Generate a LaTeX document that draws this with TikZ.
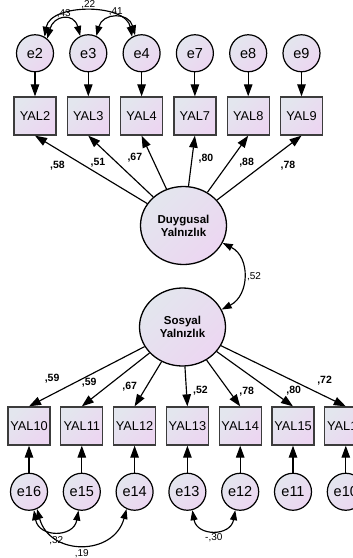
\documentclass[tikz,border=0pt]{standalone}
\usepackage{fontspec}
\setmainfont{Liberation Sans}
\usepackage{tikz}
\usetikzlibrary{arrows.meta,positioning,shapes.geometric}

\definecolor{fillA}{HTML}{E3E6EE}
\definecolor{fillB}{HTML}{ECD6F1}
\definecolor{boxedge}{HTML}{3C3C3C}

\begin{document}
\begin{tikzpicture}[
  x=1pt, y=1pt,
  obs/.style={draw=boxedge, line width=1.3pt, top color=fillA, bottom color=fillB, shading angle=45,
    minimum width=42pt, minimum height=38pt, inner sep=0pt, font=\fontsize{12.8}{14}\selectfont},
  err/.style={circle, draw=black, line width=1.2pt, top color=fillA, bottom color=fillB, shading angle=45,
    minimum size=37pt, inner sep=0pt, font=\fontsize{14.5}{16}\selectfont},
  lat/.style={ellipse, draw=black, line width=1.3pt, top color=fillA, bottom color=fillB, shading angle=45,
    minimum width=86pt, minimum height=78pt, inner sep=0pt, align=center, font=\bfseries\fontsize{11.5}{13}\selectfont},
  arr/.style={-{Triangle[length=12pt, width=8.5pt]}, line width=1.15pt},
  cov/.style={{Triangle[length=10pt, width=7pt]}-{Triangle[length=10pt, width=7pt]}, line width=1.15pt},
  ld/.style={font=\bfseries\fontsize{10.5}{12}\selectfont, inner sep=0pt},
  cv/.style={font=\fontsize{10}{12}\selectfont, inner sep=0pt}
]
\useasboundingbox (0,0) rectangle (353,-558);

% Duygusal indicators
\node[obs] (yal2) at (35,-116) {YAL2};
\node[obs, right=10pt of yal2] (yal3) {YAL3};
\node[obs, right=10pt of yal3] (yal4) {YAL4};
\node[obs, right=10pt of yal4] (yal7) {YAL7};
\node[obs, right=10pt of yal7] (yal8) {YAL8};
\node[obs, right=10pt of yal8] (yal9) {YAL9};

\node[err, above=24pt of yal2] (e2) {e2};
\node[err, above=24pt of yal3] (e3) {e3};
\node[err, above=24pt of yal4] (e4) {e4};
\node[err, above=24pt of yal7] (e7) {e7};
\node[err, above=24pt of yal8] (e8) {e8};
\node[err, above=24pt of yal9] (e9) {e9};

% Latent factors
\node[lat] (dy) at (183.5,-225.5) {Duygusal\\Yalnızlık};
\node[lat] (sy) at (182.5,-327) {Sosyal\\Yalnızlık};

% Sosyal indicators
\node[obs] (yal10) at (29,-426) {YAL10};
\node[obs, right=9.5pt of yal10] (yal11) {YAL11};
\node[obs, right=9.5pt of yal11] (yal12) {YAL12};
\node[obs, right=9.5pt of yal12] (yal13) {YAL13};
\node[obs, right=9.5pt of yal13] (yal14) {YAL14};
\node[obs, right=9.5pt of yal14] (yal15) {YAL15};
\node[obs, right=9.5pt of yal15] (yal16) {YAL16};

\node[err, below=27pt of yal10] (e16) {e16};
\node[err, below=27pt of yal11] (e15) {e15};
\node[err, below=27pt of yal12] (e14) {e14};
\node[err, below=27pt of yal13] (e13) {e13};
\node[err, below=27pt of yal14] (e12) {e12};
\node[err, below=27pt of yal15] (e11) {e11};
\node[err, below=27pt of yal16] (e10) {e10};

% Error terms
\draw[arr] (e2) -- (yal2);
\draw[arr] (e3) -- (yal3);
\draw[arr] (e4) -- (yal4);
\draw[arr] (e7) -- (yal7);
\draw[arr] (e8) -- (yal8);
\draw[arr] (e9) -- (yal9);

\draw[arr] (e16) -- (yal10);
\draw[arr] (e15) -- (yal11);
\draw[arr] (e14) -- (yal12);
\draw[arr] (e13) -- (yal13);
\draw[arr] (e12) -- (yal14);
\draw[arr] (e11) -- (yal15);
\draw[arr] (e10) -- (yal16);

% Loadings
\draw[arr] (dy) -- node[ld, pos=.8, yshift=-16pt] {,58} (yal2.south);
\draw[arr] (dy) -- node[ld, pos=.85, yshift=-18pt] {,51} (yal3.south);
\draw[arr] (dy) -- node[ld, pos=.59, xshift=-17pt] {,67} (yal4.south);
\draw[arr] (dy) -- node[ld, pos=.55, xshift=14pt] {,80} (yal7.south);
\draw[arr] (dy) -- node[ld, pos=.52, xshift=18pt] {,88} (yal8.south);
\draw[arr] (dy) -- node[ld, pos=.84, yshift=-20pt] {,78} (yal9.south);

\draw[arr] (sy) -- node[ld, pos=.8, yshift=16pt] {,59} (yal10.north);
\draw[arr] (sy) -- node[ld, pos=.89, yshift=18pt] {,59} (yal11.north);
\draw[arr] (sy) -- node[ld, pos=.55, xshift=-17pt] {,67} (yal12.north);
\draw[arr] (sy) -- node[ld, pos=.6, xshift=14pt] {,52} (yal13.north);
\draw[arr] (sy) -- node[ld, pos=.69, xshift=17pt] {,78} (yal14.north);
\draw[arr] (sy) -- node[ld, pos=.72, xshift=22pt] {,80} (yal15.north);
\draw[arr] (sy) -- node[ld, pos=.83, yshift=15pt] {,72} (yal16.north);

% Covariances
\draw[cov] (e2.50) to[out=75, in=105, looseness=1.9] node[cv, yshift=6pt] {,43} (e3.115);
\draw[cov] (e2.60) to[out=80, in=100, looseness=1] node[cv, yshift=6.5pt] {,22} (e4.120);
\draw[cov] (e3.65) to[out=75, in=105, looseness=1.6] node[cv, yshift=6.5pt] {,41} (e4.110);
\draw[cov] (dy.-24) to[out=-27, in=27, looseness=1.2] node[cv, xshift=11pt] {,52} (sy.24);
\draw[cov] (e16.-75) to[out=-80, in=-100, looseness=1.6] node[cv, yshift=-10pt] {,32} (e15.-100);
\draw[cov] (e16.-65) to[out=-75, in=-105, looseness=1.4] node[cv, yshift=-9pt] {,19} (e14.-115);
\draw[cov] (e13.-75) to[out=-80, in=-100, looseness=1.6] node[cv, yshift=-8pt] {-,30} (e12.-105);

\end{tikzpicture}
\end{document}
